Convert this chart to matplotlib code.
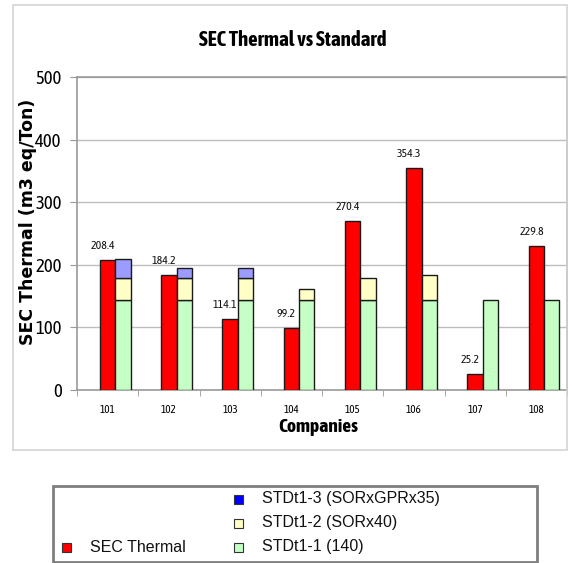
import matplotlib
matplotlib.use("Agg")
import matplotlib.pyplot as plt
from matplotlib.patches import Rectangle
import numpy as np

companies = ["101", "102", "103", "104", "105", "106", "107", "108"]
sec_thermal = [208.4, 184.2, 114.1, 99.2, 270.4, 354.3, 25.2, 229.8]
std_1 = [143.5, 143.5, 143.5, 143.5, 143.5, 143.5, 143.5, 143.5]
std_2 = [35, 35, 35, 18, 35, 40, 0, 0]
std_3 = [31, 16, 16, 0, 0, 0, 0, 0]
yticks = [0, 100, 200, 300, 400, 500]
legend_labels = ["SEC Thermal", "STDt1-3 (SORxGPRx35)", "STDt1-2 (SORx40)", "STDt1-1 (140)"]

c_red = "#FF0000"
c_green = "#C6FFC6"
c_yellow = "#FFFFC6"
c_blue_bar = "#9C9CFF"
c_blue_leg = "#0000FF"

NARROW = ["Asap Condensed", "Archivo Narrow", "Liberation Sans", "DejaVu Sans"]

W, H = 573, 563
fig = plt.figure(figsize=(W / 100, H / 100), dpi=100)

# outer chart border
fig.add_artist(Rectangle((13 / W, 1 - 450 / H), (567 - 13) / W, (450 - 5) / H,
                         transform=fig.transFigure, fill=False,
                         edgecolor="#D4D4D4", linewidth=1.2))

ax = fig.add_axes([77 / W, 1 - 390 / H, (567 - 77) / W, (390 - 77) / H])

x = np.arange(len(companies))
bw = 0.25
kw = dict(width=bw, edgecolor="#1a1a1a", linewidth=1.0, zorder=3)
ax.bar(x, sec_thermal, color=c_red, **kw)
s1 = np.array(std_1)
s2 = np.array(std_2)
s3 = np.array(std_3)
ax.bar(x + bw, s1, color=c_green, **kw)
m2 = s2 > 0
ax.bar((x + bw)[m2], s2[m2], bottom=s1[m2], color=c_yellow, **kw)
m3 = s3 > 0
ax.bar((x + bw)[m3], s3[m3], bottom=(s1 + s2)[m3], color=c_blue_bar, **kw)

for xi, v in zip(x, sec_thermal):
    ax.text(xi - 0.08, v + 14, f"{v:.1f}", ha="center", va="bottom",
            fontsize=8.5, family=NARROW, color="#111111")

ax.set_xlim(-0.5, len(companies) - 0.5)
ax.set_ylim(0, 500)
ax.set_yticks(yticks)
ax.set_yticklabels([str(t) for t in yticks], fontsize=13.5, family=NARROW)
ax.set_xticks(x)
ax.set_xticklabels(companies, fontsize=8, family=NARROW)
ax.set_xticks(np.arange(len(companies) + 1) - 0.5, minor=True)
ax.tick_params(axis="x", which="major", length=0, pad=10)
ax.tick_params(axis="x", which="minor", length=4, color="#999999")
ax.tick_params(axis="y", length=5, color="#999999", pad=6)

ax.grid(axis="y", color="#BDBDBD", linewidth=1.0, zorder=0)
ax.set_axisbelow(True)
for sp in ax.spines.values():
    sp.set_color("#9A9A9A")
    sp.set_linewidth(1.2)

ax.set_ylabel("SEC Thermal (m3 eq/Ton)", fontsize=12.5, fontweight="bold",
              family="DejaVu Sans")
ax.set_xlabel("Companies", fontsize=14, fontweight="bold", family=NARROW)
ax.xaxis.set_label_coords((318 - 77) / (567 - 77), -(418 - 390) / (390 - 77))
ax.yaxis.set_label_coords(-(77 - 37) / (567 - 77), (390 - 222) / (390 - 77))

fig.text(293 / W, 1 - 40.5 / H, "SEC Thermal vs Standard", ha="center",
         va="center", fontsize=15, fontweight="bold", family=NARROW)

# legend box
fig.add_artist(Rectangle((53 / W, 1 - 562 / H), (537 - 53) / W, (562 - 486) / H,
                         transform=fig.transFigure, fill=False,
                         edgecolor="#7F7F7F", linewidth=2))
leg_pos = [(66, 547, 90), (238, 499, 262), (238, 523, 262), (238, 547, 262)]
leg_cols = [c_red, c_blue_leg, c_yellow, c_green]
sq = 9
for (mx, my, tx), col, lab in zip(leg_pos, leg_cols, legend_labels):
    fig.add_artist(Rectangle(((mx - sq / 2) / W, 1 - (my + sq / 2) / H), sq / W, sq / H,
                             transform=fig.transFigure, facecolor=col,
                             edgecolor="#333333", linewidth=0.8))
    fig.text(tx / W, 1 - my / H, lab, ha="left", va="center", fontsize=11.5,
             family=["Liberation Sans", "DejaVu Sans"], color="#111111")

fig.savefig("out.png", dpi=100)
